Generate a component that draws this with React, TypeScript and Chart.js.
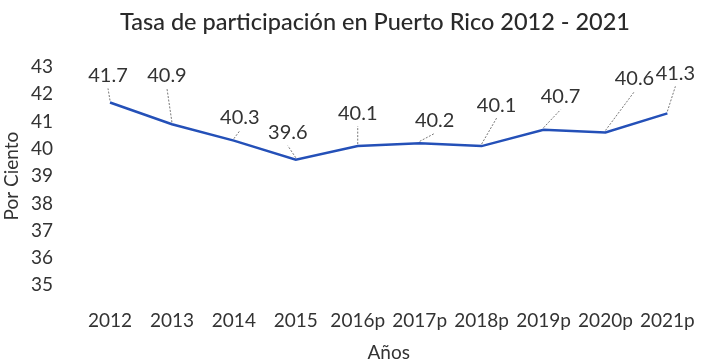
import React, { useEffect, useRef } from "react";
import { Chart, registerables } from "chart.js";

Chart.register(...registerables);

const categories = ["2012", "2013", "2014", "2015", "2016p", "2017p", "2018p", "2019p", "2020p", "2021p"];
const rates = [41.7, 40.9, 40.3, 39.6, 40.1, 40.2, 40.1, 40.7, 40.6, 41.3];
const yTickMin = 35;
const yTickMax = 43;

const titleText = "Tasa de participación en Puerto Rico 2012 - 2021";
const FONT = "Lato, 'Open Sans', sans-serif";

// label placement (style): pixel offsets of each data label from its point
const labelOffsets: [number, number][] = [
  [-2, -27], [-5, -49], [6, -23], [-8, -27], [0, -33],
  [15, -23], [15, -41], [17, -33], [29, -54], [8, -40],
];

const labelPlugin = {
  id: "leaderLabels",
  afterDatasetsDraw(chart: any) {
    const ctx = chart.ctx;
    const meta = chart.getDatasetMeta(0);
    ctx.save();
    ctx.font = `20px ${FONT}`;
    ctx.fillStyle = "#333";
    ctx.textAlign = "center";
    ctx.textBaseline = "middle";
    meta.data.forEach((pt: any, i: number) => {
      const [dx, dy] = labelOffsets[i];
      const lx = pt.x + dx;
      const ly = pt.y + dy;
      const sx = pt.x;
      const sy = pt.y - 2;
      const ex = lx;
      const ey = ly + 13;
      if (sy - ey > 4) {
        ctx.save();
        ctx.strokeStyle = "#555";
        ctx.lineWidth = 0.8;
        ctx.setLineDash([2, 1.5]);
        ctx.beginPath();
        ctx.moveTo(sx, sy);
        ctx.lineTo(ex, ey);
        ctx.stroke();
        ctx.restore();
      }
      ctx.fillText(String(rates[i]), lx, ly);
    });
    ctx.restore();
  },
};

const titlePlugin = {
  id: "customTitle",
  afterDraw(chart: any) {
    const ctx = chart.ctx;
    ctx.save();
    ctx.font = `500 23.5px ${FONT}`;
    ctx.fillStyle = "#2a2a2a";
    ctx.textAlign = "center";
    ctx.textBaseline = "middle";
    ctx.fillText(titleText, 375, 22);
    ctx.restore();
  },
};

export default function App() {
  const ref = useRef<HTMLCanvasElement | null>(null);
  useEffect(() => {
    document.body.style.margin = "0";
    if (!ref.current) return;
    const chart = new Chart(ref.current, {
      type: "line",
      data: {
        labels: categories,
        datasets: [
          {
            label: "Tasa de participación",
            data: rates,
            borderColor: "#2450b8",
            backgroundColor: "#2450b8",
            borderWidth: 2.5,
            pointRadius: 0,
            tension: 0,
          },
        ],
      },
      options: {
        responsive: false,
        animation: false,
        layout: { padding: { top: 67, left: 2, right: 5, bottom: -2 } },
        plugins: {
          legend: { display: false },
          tooltip: { enabled: false },
          title: { display: false },
        },
        scales: {
          x: {
            offset: true,
            grid: { display: false, drawTicks: false },
            border: { display: false },
            ticks: { color: "#333", font: { family: FONT, size: 19 }, padding: 24, maxRotation: 0, autoSkip: false },
            title: { display: true, text: "Años", color: "#333", font: { family: FONT, size: 19, lineHeight: 1.0 }, padding: { top: -13, bottom: 0 } },
          },
          y: {
            min: yTickMin,
            max: yTickMax,
            grid: { display: false, drawTicks: false },
            border: { display: false },
            ticks: { stepSize: 1, autoSkip: false, color: "#333", font: { family: FONT, size: 19 }, padding: 26 },
            title: { display: true, text: "Por Ciento", color: "#333", font: { family: FONT, size: 19, lineHeight: 1.0 }, padding: { top: 0, bottom: -16 } },
          },
        },
      },
      plugins: [labelPlugin, titlePlugin],
    });
    return () => chart.destroy();
  }, []);
  return (
    <div style={{ width: 719, height: 360 }}>
      <canvas ref={ref} width={719} height={360} style={{ display: "block" }} />
    </div>
  );
}
